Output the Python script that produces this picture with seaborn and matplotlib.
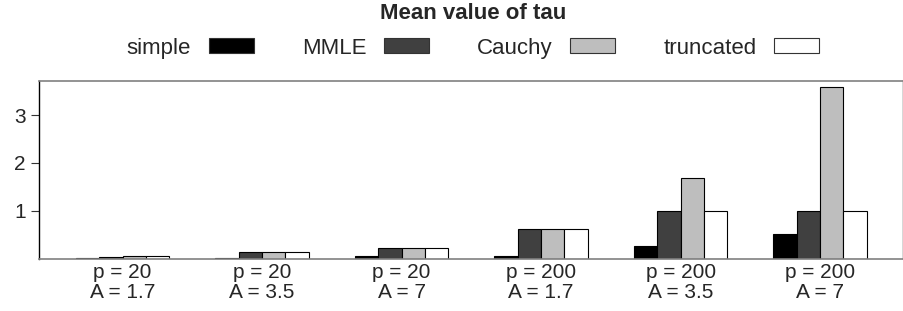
import matplotlib
matplotlib.use("Agg")
import matplotlib.pyplot as plt
from matplotlib.patches import Patch
import pandas as pd
import seaborn as sns

# values
groups = ["p = 20\nA = 1.7", "p = 20\nA = 3.5", "p = 20\nA = 7",
          "p = 200\nA = 1.7", "p = 200\nA = 3.5", "p = 200\nA = 7"]
methods = ["simple", "MMLE", "Cauchy", "truncated"]
simple = [0.005, 0.02, 0.05, 0.06, 0.26, 0.51]
mmle = [0.04, 0.145, 0.22, 0.61, 1.0, 1.0]
cauchy = [0.055, 0.15, 0.22, 0.62, 1.69, 3.58]
truncated = [0.055, 0.15, 0.22, 0.61, 0.99, 0.99]
colors = {"simple": "#000000", "MMLE": "#404040", "Cauchy": "#bebebe", "truncated": "#ffffff"}

df = pd.DataFrame({
    "group": groups * 4,
    "method": [m for m in methods for _ in groups],
    "value": simple + mmle + cauchy + truncated,
})

sns.set_theme(style="white")
plt.rcParams["font.family"] = ["Liberation Sans", "DejaVu Sans"]

fig = plt.figure(figsize=(9.04, 3.11), dpi=100)
ax = fig.add_axes([39.5 / 904, 1 - 258.7 / 311, (903 - 39.5) / 904, (258.7 - 81) / 311])

sns.barplot(data=df, x="group", y="value", hue="method", hue_order=methods,
            palette=colors, width=0.669, gap=0, edgecolor="black", linewidth=0.8,
            legend=False, ax=ax)

ax.set_xlim(-0.596, 5.594)
ax.set_ylim(0, 3.71)
ax.set_yticks([1, 2, 3])
ax.set_xlabel("")
ax.set_ylabel("")
ax.tick_params(axis="x", length=0, pad=3, labelsize=15)
ax.tick_params(axis="y", left=True, length=6, width=0.8, color="#333333", pad=4, labelsize=15)
for t in ax.get_xticklabels():
    t.set_linespacing(1.1)

for side in ["top", "bottom", "right"]:
    ax.spines[side].set_color("#808080")
    ax.spines[side].set_linewidth(1.2)
ax.spines["right"].set_color("#d0d0d0")
ax.spines["left"].set_color("black")
ax.spines["left"].set_linewidth(1)

handles = [Patch(facecolor=colors[m], edgecolor="#333333", linewidth=0.8) for m in methods]
leg = ax.legend(handles, methods, ncol=4, markerfirst=False, frameon=False,
                title="Mean value of tau", title_fontproperties={"weight": "bold", "size": 16},
                fontsize=16, handlelength=2.03, handleheight=0.63, handletextpad=0.8,
                columnspacing=2.15, loc="upper center", bbox_to_anchor=(473 / 904, 1.0),
                bbox_transform=fig.transFigure, borderaxespad=0, borderpad=0.15,
                labelspacing=0.2)
leg._legend_box.sep = 9.5

fig.savefig("out.png", dpi=100)
